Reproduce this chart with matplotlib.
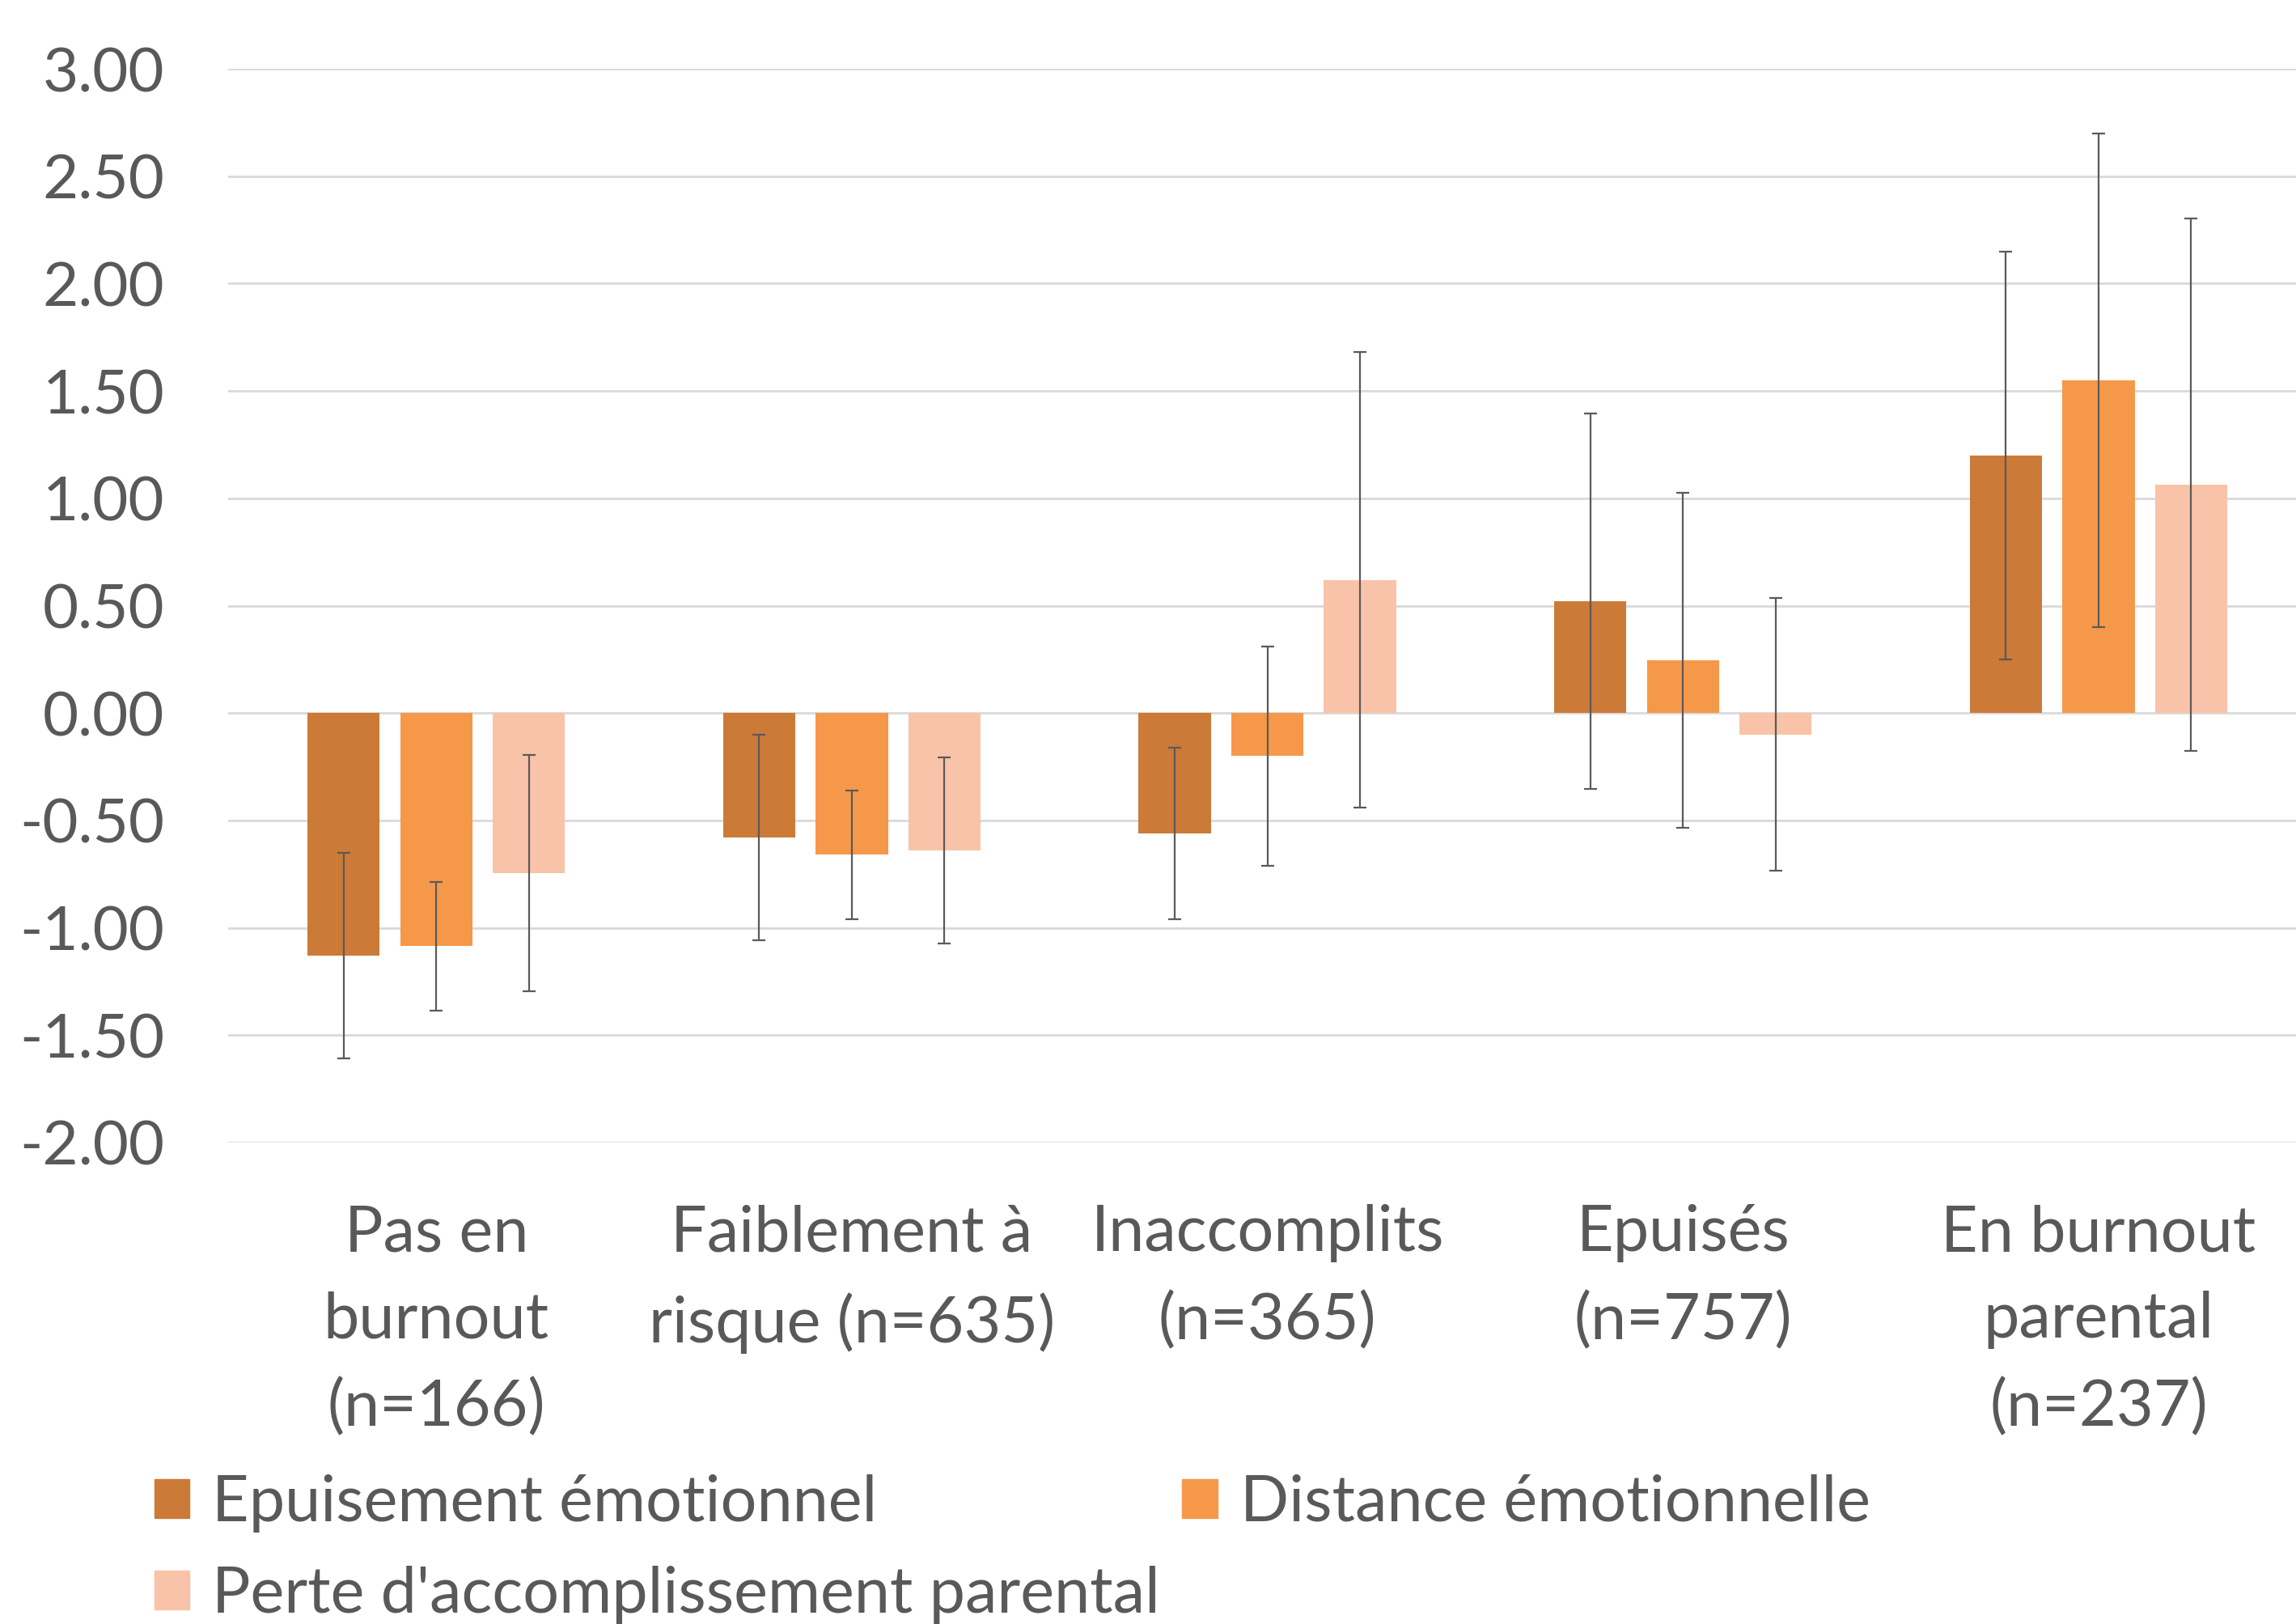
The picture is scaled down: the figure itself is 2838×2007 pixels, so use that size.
import numpy as np
import matplotlib.pyplot as plt
from matplotlib.patches import Patch

plt.rcParams['font.family'] = ['Lato', 'DejaVu Sans']

# 数据
categories = ['Pas en\nburnout\n(n=166)', 'Faiblement à\nrisque (n=635)',
              'Inaccomplits\n(n=365)', 'Epuisés\n(n=757)',
              'En burnout\nparental\n(n=237)']
series = ['Epuisement émotionnel', 'Distance émotionnelle',
          "Perte d'accomplissement parental"]
epuisement = [-1.13, -0.58, -0.56, 0.52, 1.20]
distance = [-1.085, -0.66, -0.20, 0.245, 1.55]
perte = [-0.745, -0.64, 0.62, -0.10, 1.065]
err_epuisement = [0.48, 0.48, 0.40, 0.875, 0.95]
err_distance = [0.30, 0.30, 0.51, 0.78, 1.15]
err_perte = [0.55, 0.435, 1.06, 0.635, 1.24]
yticks = [-2.0, -1.5, -1.0, -0.5, 0.0, 0.5, 1.0, 1.5, 2.0, 2.5, 3.0]

colors = ['#CC7A38', '#F6984A', '#F9C3A9']
txt = '#595959'

fig = plt.figure(figsize=(28.38, 20.07), dpi=100)
ax = fig.add_axes([0.0995, 0.2965, 0.905, 0.6611])

x = np.arange(len(categories))
w = 0.174
off = 0.223
vals = [epuisement, distance, perte]
errs = [err_epuisement, err_distance, err_perte]
for i in range(3):
    ax.bar(x + (i - 1) * off, vals[i], w, color=colors[i], label=series[i], zorder=2)
    ax.errorbar(x + (i - 1) * off, vals[i], yerr=errs[i], fmt='none',
                ecolor='#5a5a5a', elinewidth=1.6, capsize=6, capthick=1.6, zorder=3)

ax.set_xlim(-0.5, 4.5)
ax.set_ylim(-2, 3)
ax.set_yticks(yticks)
ax.set_yticklabels(['{:.2f}'.format(v) for v in yticks], fontsize=55, color=txt)
ax.yaxis.grid(True, color='#D9D9D9', linewidth=2, zorder=0)
ax.set_axisbelow(True)
ax.tick_params(axis='y', length=0, pad=57)
ax.tick_params(axis='x', length=0, pad=0)
ax.set_xticks(x)
ax.set_xticklabels([])
for s in ax.spines.values():
    s.set_visible(False)

# 类别标签
for xi, lab in zip(x, categories):
    ax.annotate(lab, xy=(xi, -2), xycoords='data', xytext=(0, -55),
                textcoords='offset points', ha='center', va='top',
                fontsize=57, color=txt, linespacing=1.6)

# 图例
handles = [Patch(color=colors[0]), Patch(color=colors[2]), Patch(color=colors[1])]
labels = [series[0], series[2], series[1]]
fig.legend(handles, labels, loc='upper left', bbox_to_anchor=(0.056, 0.108),
           ncol=2, frameon=False, fontsize=57, labelcolor=txt,
           handlelength=0.55, handleheight=0.55, handletextpad=0.35,
           columnspacing=0.35, labelspacing=0.52, borderaxespad=0)

fig.savefig('out.png', dpi=100)
